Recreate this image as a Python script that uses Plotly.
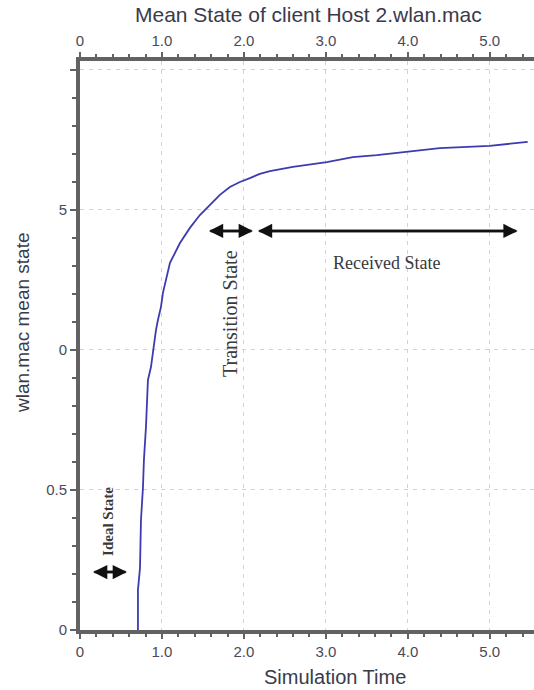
import plotly.graph_objects as go

# Data
sim_time = [0.707, 0.707, 0.732, 0.744, 0.768, 0.780, 0.805, 0.817, 0.829, 0.866, 0.890,
            0.927, 0.951, 0.988, 1.012, 1.061, 1.098, 1.220, 1.341, 1.463, 1.585, 1.707,
            1.829, 1.951, 2.073, 2.195, 2.317, 2.439, 2.598, 3.012, 3.329, 3.622, 3.939,
            4.390, 5.000, 5.463]
mean_state = [0.0, 0.143, 0.221, 0.393, 0.507, 0.607, 0.725, 0.811, 0.893, 0.939, 1.0,
              1.071, 1.107, 1.154, 1.204, 1.261, 1.311, 1.382, 1.436, 1.482, 1.518, 1.554,
              1.582, 1.600, 1.614, 1.629, 1.639, 1.646, 1.654, 1.671, 1.689, 1.696, 1.707,
              1.721, 1.729, 1.743]

x_tickvals = [0, 1, 2, 3, 4, 5]
x_ticktext = ["0", "1.0", "2.0", "3.0", "4.0", "5.0"]
y_tickvals = [0, 0.5, 1.0, 1.5, 2.0]
y_ticktext = ["0", "0.5", "0", "5", ""]

AX = "#626262"
GRID = "#d2d2d2"
TXT = "#4a4a5a"
XR = [0, 5.54]
YR = [0, 2.032]

fig = go.Figure()
fig.add_trace(go.Scatter(x=sim_time, y=mean_state, mode="lines",
                         line=dict(color="#3c3cb0", width=1.8), showlegend=False))
fig.add_trace(go.Scatter(x=[0], y=[0], xaxis="x2", mode="markers",
                         marker=dict(opacity=0), showlegend=False, hoverinfo="skip"))

common_x = dict(range=XR, tickvals=x_tickvals, ticktext=x_ticktext,
                showline=True, linecolor=AX, linewidth=4, ticks="outside",
                ticklen=5, tickcolor=AX, tickwidth=2,
                tickfont=dict(family="Arial", size=15, color=TXT),
                minor=dict(dtick=0.2, ticks="outside", ticklen=3, tickcolor=AX, tickwidth=2, showgrid=False),
                zeroline=False)

fig.update_layout(
    width=534, height=690,
    margin=dict(l=80, r=0, t=61, b=60),
    paper_bgcolor="white", plot_bgcolor="white",
    xaxis=dict(**common_x, showgrid=True, gridcolor=GRID, griddash="4px,5px", gridwidth=1.3),
    xaxis2=dict(**common_x, overlaying="x", side="top", showgrid=False),
    yaxis=dict(range=YR, tickvals=y_tickvals, ticktext=y_ticktext,
               showline=True, linecolor=AX, linewidth=4, ticks="outside",
               ticklen=6, tickcolor=AX, tickwidth=2,
               tickfont=dict(family="Arial", size=15, color=TXT),
               minor=dict(dtick=0.1, ticks="outside", ticklen=4, tickcolor=AX, tickwidth=2, showgrid=False),
               showgrid=True, gridcolor=GRID, griddash="4px,5px", gridwidth=1.3, zeroline=False),
    showlegend=False,
)

ann = []
# Title
ann.append(dict(text="Mean State of client Host 2.wlan.mac", xref="paper", yref="paper",
                x=(308 - 80) / 454, y=1 + (61 - 15) / 569, showarrow=False,
                font=dict(family="Arial", size=21, color="#3a3a4a"), xanchor="center", yanchor="middle"))
# Axis titles
ann.append(dict(text="Simulation Time", xref="paper", yref="paper",
                x=(335 - 80) / 454, y=-(677 - 630) / 569, showarrow=False,
                font=dict(family="Arial", size=20, color="#3a3a4a"), xanchor="center", yanchor="middle"))
ann.append(dict(text="wlan.mac mean state", xref="paper", yref="paper",
                x=-(80 - 22) / 454, y=(630 - 323) / 569, showarrow=False, textangle=-90,
                font=dict(family="Arial", size=19, color="#3a3a4a"), xanchor="center", yanchor="middle"))

# Double arrows
def darrow(x0, x1, y):
    for a, b in ((x0, x1), (x1, x0)):
        ann.append(dict(x=b, y=y, ax=a, ay=y, xref="x", yref="y", axref="x", ayref="y",
                        text="", showarrow=True, arrowhead=2, arrowsize=1.1, arrowwidth=2.6,
                        arrowcolor="#111111"))

darrow(0.159, 0.573, 0.207)
darrow(1.573, 2.11, 1.425)
darrow(2.171, 5.341, 1.425)

serif = "Liberation Serif"
ann.append(dict(text="<b>Ideal State</b>", x=0.342, y=0.386, xref="x", yref="y", showarrow=False,
                textangle=-90, font=dict(family=serif, size=15, color="#3a3a3a")))
ann.append(dict(text="Transition State", x=1.83, y=1.132, xref="x", yref="y", showarrow=False,
                textangle=-90, font=dict(family=serif, size=20, color="#3a3a3a")))
ann.append(dict(text="Received State", x=3.74, y=1.31, xref="x", yref="y", showarrow=False,
                font=dict(family=serif, size=18, color="#3a3a3a")))

fig.update_layout(annotations=ann)
fig.write_html("out.html")
